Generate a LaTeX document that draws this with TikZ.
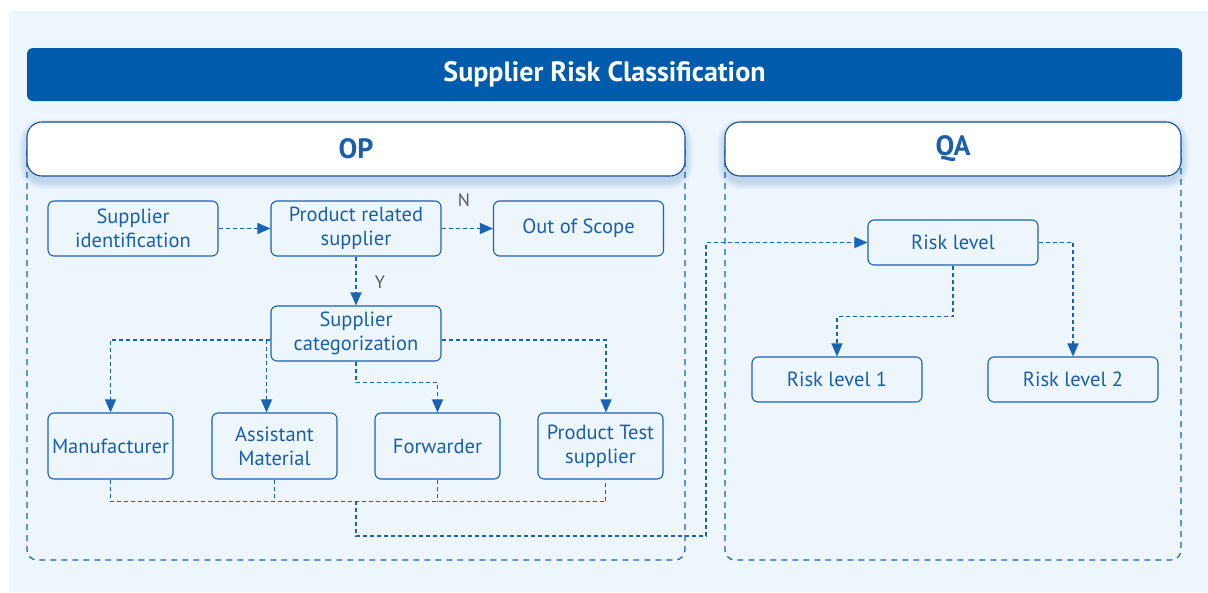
\documentclass[tikz,border=0pt]{standalone}
\usepackage{fontspec}
\setmainfont{PT Sans}
\usetikzlibrary{arrows.meta,calc,positioning}
\definecolor{bgblue}{HTML}{EDF5FD}
\definecolor{barblue}{HTML}{005BAC}
\definecolor{txtblue}{HTML}{1A5FA8}
\definecolor{lineblue}{HTML}{1A62B4}

\begin{document}
\begin{tikzpicture}[x=1pt,y=-1pt]
                % define styles
\tikzset{stepbox/.style={draw=lineblue,
                         line width=1.1pt,
                         rounded corners=6pt,
                         fill=bgblue,
                         text=txtblue,
                         align=center,
                         font=\fontsize{20.5}{24}\selectfont,
                         minimum width=170pt,
                         minimum height=55pt,
                         inner sep=2pt,
                         },
         kindbox/.style={stepbox,
                         minimum width=125pt,
                         minimum height=66pt,
                         },
         riskbox/.style={stepbox,
                         minimum height=45pt,
                         },
         link/.style={draw=lineblue,
                      line width=1.2pt,
                      dash pattern=on 4pt off 3pt,
                      },
         arrowlink/.style={link,
                           -{Triangle[length=13pt,width=11pt]},
                           },
         lane/.style={draw=lineblue,
                      line width=1.2pt,
                      dash pattern=on 6pt off 5pt,
                      rounded corners=10pt,
                      },
         header/.style={draw=lineblue!80!black,
                        line width=1.1pt,
                        fill=white,
                        rounded corners=15pt,
                        minimum height=54pt,
                        text=txtblue,
                        font=\fontsize{28}{28}\selectfont\bfseries,
                        },
         tag/.style={text=black!65,
                     font=\fontsize{18}{18}\selectfont,
                     }
}

% background
\useasboundingbox (0,0) rectangle (1208,592);
\fill[bgblue] (9,11) rectangle (1208,592);

% title bar
\node[fill=barblue, rounded corners=6pt, minimum width=1155pt, minimum height=53pt,
      text=white, font=\fontsize{28}{28}\selectfont\bfseries] (title) at (604.5,74.5)
      {Supplier Risk Classification};

% lanes
\draw[lane] (27,150) -- (27,560) -- (685,560) -- (685,150);
\draw[lane] (725,150) -- (725,560) -- (1181,560) -- (1181,150);

% header shadows
\foreach \xa/\xb in {27/685, 725/1181}
    \foreach \k in {1,...,8}
        \fill[barblue, opacity=0.022, rounded corners=15pt+\k pt]
            (\xa-\k, 122-\k+5) rectangle (\xb+\k, 176+\k+5);

% headers
\node[header, minimum width=658pt] (op) at (356,149) {OP};
\node[header, minimum width=456pt] (qa) at (953,149) {QA};

% nodes
\node[stepbox] (sid)  at (133,228.5)   {Supplier\\identification};
\node[stepbox] (prs)  at (356,228.5)   {Product related\\supplier};
\node[stepbox] (oos)  at (578.5,228.5) {Out of Scope};
\node[stepbox] (cat)  at (356,333.5)   {Supplier\\categorization};

\node[kindbox] (man)   at (110.5,446) {Manufacturer};
\node[kindbox] (ast)   at (274.5,446) {Assistant\\Material};
\node[kindbox] (fwd)   at (437.5,446) {Forwarder};
\node[kindbox] (ptest) at (600.5,446) {Product Test\\supplier};

\node[riskbox] (risk) at (953,242.5)  {Risk level};
\node[riskbox] (rl1)  at (837,379.5)  {Risk level 1};
\node[riskbox] (rl2)  at (1073,379.5) {Risk level 2};

% labels
\node[tag] (no)  at (464,200) {N};
\node[tag] (yes) at (380,282) {Y};

% helper points
\coordinate (catl)  at ([yshift=-6.5pt]cat.west);
\coordinate (catr)  at ([yshift=-6.5pt]cat.east);
\coordinate (astin) at ([xshift=-8pt]ast.north);
\coordinate (ptin)  at ([xshift=5.5pt]ptest.north);
\coordinate (ptout) at ([xshift=5pt]ptest.south);
\coordinate (bus)   at (356,501);
\coordinate (bend)  at (706,536);

% OP flow
\draw[arrowlink] (sid) -- (prs);
\draw[arrowlink] (prs) -- (oos);
\draw[arrowlink] (prs) -- (cat);

\draw[arrowlink] (catl) -| (man.north);
\draw[arrowlink] (catl -| astin) -- (astin);
\draw[arrowlink] (cat.south) -- ++(0,21) -| (fwd.north);
\draw[arrowlink] (catr) -| (ptin);

% collect to QA
\draw[link] (man.south) -- ++(0,22) -| (ptout);
\draw[link] (ast.south) -- ++(0,22);
\draw[link] (fwd.south) -- ++(0,22);
\draw[arrowlink] (bus) |- (bend) |- (risk.west);

% QA flow
\draw[arrowlink] (risk.south) -- ++(0,51) -| (rl1.north);
\draw[arrowlink] (risk.east) -| (rl2.north);

\end{tikzpicture}
\end{document}
